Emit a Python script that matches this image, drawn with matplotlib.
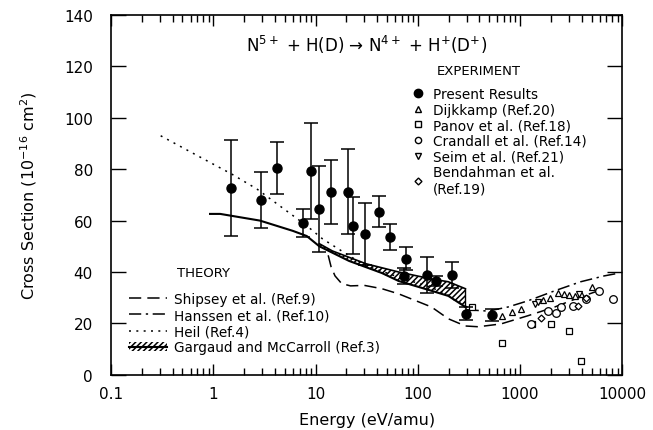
import matplotlib
matplotlib.use('Agg')
import matplotlib.pyplot as plt
import numpy as np

from matplotlib.lines   import Line2D
from matplotlib.patches import Patch
from matplotlib.legend_handler import HandlerTuple

# present results (filled circles with error bars)
pres_E   = [1.5, 2.9, 4.2, 7.6, 9.1, 10.9, 14.3, 20.9, 23.4, 30.6, 41.8,
            53.5, 76, 73, 122, 150, 214, 299, 535]
pres_val = [72.7, 68, 80.5, 59, 79.3, 64.6, 71.2, 71.2, 58, 54.8, 63.4,
            53.7, 45.1, 38.5, 38.9, 36.6, 38.9, 23.7, 23.3]
pres_err = [18.5, 11, 10, 5.5, 18.5, 16.7, 12.5, 16.5, 11, 12, 6,
            5, 4.5, 3, 7, 2, 5, 2.5, 2.5]

# other experiments
dijk_E   = [668, 836, 1023, 1671, 1952, 2339, 2675, 2990, 3420, 3910, 5110]
dijk_val = [23, 24.3, 25.7, 29, 29.8, 32, 31.3, 31, 30.8, 31.5, 34.2]
panov_E   = [342, 668, 1308, 2000, 2990, 3910]
panov_val = [26.4, 12.4, 19.9, 19.8, 17.1, 5.4]
cran_E   = [1279, 1871, 2238, 2500, 3270, 4370, 5980, 8180]
cran_val = [19.9, 24.9, 24.1, 26.2, 26.8, 29.4, 32.5, 29.6]
seim_E   = [1400, 1500, 3800]
seim_val = [27.4, 28.4, 31.3]
bend_E   = [1600, 3700, 4400]
bend_val = [22.2, 26.8, 30.0]

# theory
ship_E   = [13.3, 14.2, 15.5, 18, 22, 30, 44.6, 65, 136, 199, 292, 391,
            650, 1196, 2187, 3910, 6680]
ship_val = [46.5, 42, 38.5, 35.5, 34.6, 34.8, 33.5, 31.5, 26.4, 21.8, 19,
            18.7, 19.8, 23, 26.4, 30.3, 33.5]
hans_E   = [300, 489, 764, 1196, 2187, 3910, 6680, 8550]
hans_val = [25.3, 24.8, 26.4, 28.8, 32.7, 36.2, 38.5, 39.3]
heil_E   = [0.306, 0.6, 1.53, 2.67, 5.2, 8.2, 11.7, 21.4, 31, 65, 136, 199,
            233, 292, 330]
heil_val = [93, 86.7, 78, 72.3, 63.8, 58, 52.9, 46.3, 42.5, 38, 34, 31,
            28.8, 26.8, 25.5]
gm_E  = [0.93, 1.17, 2.86, 6.0, 8.2, 10.9, 21.3, 44.6, 65, 136, 199, 292]
gm_lo = [62.6, 62.6, 60.0, 56.0, 54.0, 50.0, 44.3, 39.6, 36.5, 32.7, 30.7, 26.4]
band_E  = [10.9, 14.6, 31.2, 65, 136, 199, 292]
band_hi = [51.0, 48.2, 43.2, 40.0, 37.3, 36.2, 33.5]

xticks = [0.1, 1, 10, 100, 1000, 10000]
xticklabels = ['0.1', '1', '10', '100', '1000', '10000']
yticks = [0, 20, 40, 60, 80, 100, 120, 140]

plt.rcParams['font.family'] = ['DejaVu Sans']
plt.rcParams['hatch.linewidth'] = 1.1

fig = plt.figure(figsize=(6.53, 4.31), dpi=100)
ax = fig.add_axes([0.170, 0.128, 0.783, 0.835])

# Gargaud band
band_lo = np.interp(np.log10(band_E), np.log10(gm_E), gm_lo)
ax.fill_between(band_E, band_lo, band_hi, facecolor='white', edgecolor='black',
                hatch='//////', linewidth=0)
ax.plot(band_E, band_hi, color='black', lw=1.2)
ax.plot([band_E[-1], band_E[-1]], [band_lo[-1], band_hi[-1]], color='black', lw=1.0)
ax.plot(gm_E, gm_lo, color='black', lw=1.5)

ax.plot(ship_E, ship_val, color='black', lw=1.1, dashes=(8, 4))
ax.plot(hans_E, hans_val, color='black', lw=1.1, dashes=(8, 3, 1.5, 3))
ax.plot(heil_E, heil_val, color='black', lw=1.1, dashes=(1.3, 3.5))

ax.errorbar(pres_E, pres_val, yerr=pres_err, fmt='o', color='black', ms=6.5,
            capsize=5, elinewidth=1.1, capthick=1.1, zorder=5)
ax.plot(dijk_E, dijk_val, '^', mfc='white', mec='black', ms=5, mew=0.9)
ax.plot(panov_E, panov_val, 's', mfc='white', mec='black', ms=5, mew=0.9)
ax.plot(cran_E, cran_val, 'o', mfc='white', mec='black', ms=5.5, mew=0.9)
ax.plot(seim_E, seim_val, 'v', mfc='white', mec='black', ms=5, mew=0.9)
ax.plot(bend_E, bend_val, 'D', mfc='white', mec='black', ms=3.5, mew=0.9)

ax.set_xscale('log')
ax.set_xlim(0.1, 10000)
ax.set_ylim(0, 140)
ax.set_xticks(xticks)
ax.set_xticklabels(xticklabels)
ax.set_yticks(yticks)
ax.tick_params(axis='both', which='both', direction='in', top=True, right=True,
               labelsize=11, width=1.0)
ax.tick_params(axis='x', which='major', length=8, pad=8)
ax.tick_params(axis='x', which='minor', length=5)
ax.tick_params(axis='y', which='major', length=11, pad=13)
for s in ax.spines.values():
    s.set_linewidth(1.2)

ax.set_xlabel('Energy (eV/amu)', fontsize=11.5, labelpad=8)
ax.set_ylabel('Cross Section (10$^{-16}$ cm$^{2}$)', fontsize=11.5, labelpad=18)

ax.text(0.5, 0.92, 'N$^{5+}$ + H(D) \u2192 N$^{4+}$ + H$^{+}$(D$^{+}$)',
        transform=ax.transAxes, ha='center', va='center', fontsize=12)
ax.text(0.72, 0.845, 'EXPERIMENT', transform=ax.transAxes, ha='center',
        va='center', fontsize=9.5)
ax.text(0.13, 0.285, 'THEORY', transform=ax.transAxes, ha='left',
        va='center', fontsize=9.5)

exp_handles = [
    Line2D([], [], ls='none', marker='o', color='black', ms=6),
    Line2D([], [], ls='none', marker='^', mfc='white', mec='black', ms=4.5),
    Line2D([], [], ls='none', marker='s', mfc='white', mec='black', ms=4.5),
    Line2D([], [], ls='none', marker='o', mfc='white', mec='black', ms=4.5),
    Line2D([], [], ls='none', marker='v', mfc='white', mec='black', ms=4.5),
    Line2D([], [], ls='none', marker='D', mfc='white', mec='black', ms=3.5),
]
exp_labels = ['Present Results', 'Dijkkamp (Ref.20)', 'Panov et al. (Ref.18)',
              'Crandall et al. (Ref.14)', 'Seim et al. (Ref.21)',
              'Bendahman et al.\n(Ref.19)']
leg1 = ax.legend(exp_handles, exp_labels, loc='upper left',
                 bbox_to_anchor=(0.59, 0.8), frameon=False, fontsize=9.8,
                 handlelength=0.8, handletextpad=0.7, labelspacing=0.12,
                 borderpad=0, borderaxespad=0)
ax.add_artist(leg1)

th_handles = [
    Line2D([], [], color='black', lw=1.1, dashes=(8, 4)),
    Line2D([], [], color='black', lw=1.1, dashes=(8, 3, 1.5, 3)),
    Line2D([], [], color='black', lw=1.1, dashes=(1.3, 3.5)),
    (Patch(facecolor='white', edgecolor='black', hatch='//////', lw=0),
     Line2D([], [], color='black', lw=1.5)),
]
th_labels = ['Shipsey et al. (Ref.9)', 'Hanssen et al. (Ref.10)',
             'Heil (Ref.4)', 'Gargaud and McCarroll (Ref.3)']
ax.legend(th_handles, th_labels, loc='lower left', bbox_to_anchor=(0.035, 0.057),
          frameon=False, fontsize=9.8, handlelength=2.8, handletextpad=0.5,
          labelspacing=0.15, borderpad=0, borderaxespad=0,
          handler_map={tuple: HandlerTuple(ndivide=1)})

fig.savefig('out.png', dpi=100)
